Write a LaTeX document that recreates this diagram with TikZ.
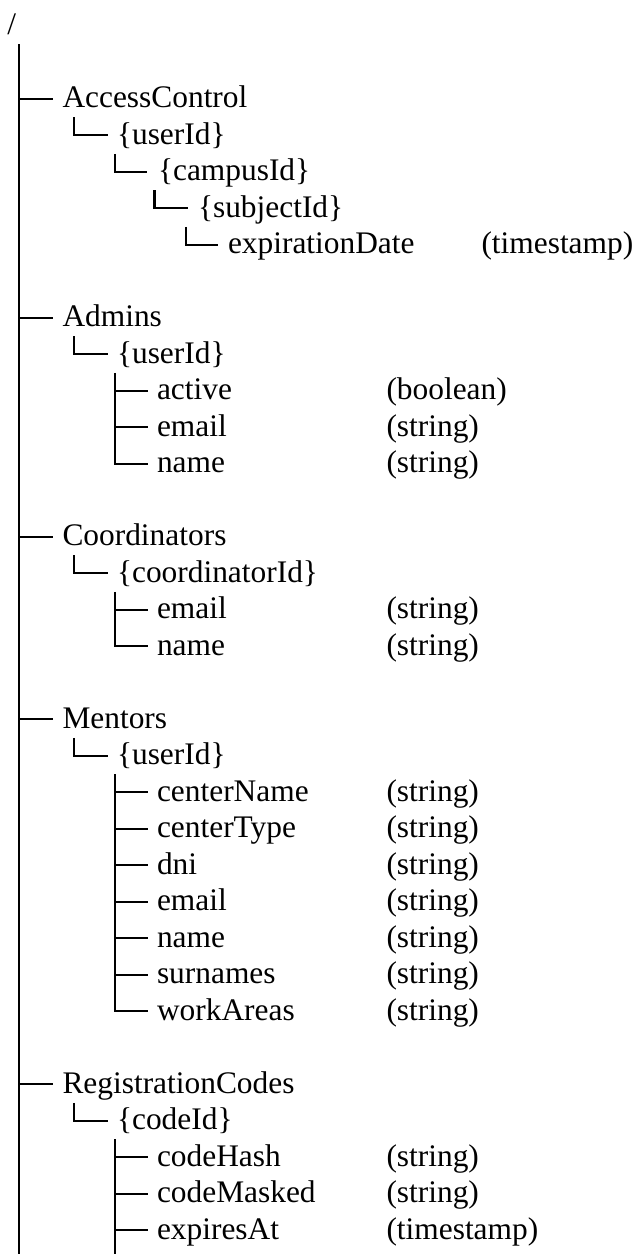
\documentclass[tikz,border=0pt]{standalone}
\usepackage{fontspec}
\setmainfont{Liberation Serif}
\newcommand\treefont{\fontsize{31.4}{36.5}\selectfont}
% baseline of row #1 (rows are evenly spaced)
\newcommand\rowb[1]{34.8+36.5*(#1)}
% a labelled entry: name, text x, branch end x, row, label
\newcommand\fsitem[5]{%
  \node[lbl] (#1) at (#2,{\rowb{#4}}) {#5};
  \coordinate (#1-e) at (#3,{\rowb{#4}-9});
}
% a type annotation: name, x, row, label
\newcommand\fstype[4]{\node[lbl] (#1) at (#2,{\rowb{#3}}) {#4};}
% top of the vertical stroke in a given row: name, x, row
\newcommand\fstop[3]{\coordinate (#1) at (#2,{\rowb{#3}-27});}

\begin{document}
\begin{tikzpicture}[x=1pt,y=-1pt,
  lbl/.style={anchor=base west,inner sep=0pt,outer sep=0pt,font=\treefont},
  trunkline/.style={line width=2.8pt,black},
  branch/.style={line width=2.1pt,black}]
\useasboundingbox (0,0) rectangle (638,1254);

\node[lbl] (root) at (7.5,{\rowb{0}}) {/};
\fstop{trunk-top}{19}{1}
\coordinate (trunk-bot) at (19,1254);
\draw[trunkline] (trunk-top) -- (trunk-bot);

% ---------- AccessControl ----------
\fsitem{ac}{62.5}{53}{2}{AccessControl}
\fsitem{ac-u}{117}{108}{3}{\{userId\}}
\fsitem{ac-c}{158}{147}{4}{\{campusId\}}
\fsitem{ac-s}{198}{188}{5}{\{subjectId\}}
\fsitem{ac-x}{228}{218}{6}{expirationDate}
\fstype{ac-xt}{481.5}{6}{(timestamp)}
\draw[branch] (trunk-top |- ac-e) -- (ac-e);
\fstop{ac-u-t}{74}{3}
\draw[branch] (ac-u-t) |- (ac-u-e);
\fstop{ac-c-t}{115}{4}
\draw[branch] (ac-c-t) |- (ac-c-e);
\fstop{ac-s-t}{154.5}{5}
\draw[branch] (ac-s-t) |- (ac-s-e);
\fstop{ac-x-t}{186}{6}
\draw[branch] (ac-x-t) |- (ac-x-e);

% ---------- Admins ----------
\fsitem{ad}{62.5}{53}{8}{Admins}
\fsitem{ad-u}{117}{108}{9}{\{userId\}}
\fsitem{ad-a}{157}{148}{10}{active}
\fsitem{ad-m}{157}{148}{11}{email}
\fsitem{ad-n}{157}{148}{12}{name}
\fstype{ad-at}{386.5}{10}{(boolean)}
\fstype{ad-mt}{386.5}{11}{(string)}
\fstype{ad-nt}{386.5}{12}{(string)}
\draw[branch] (trunk-top |- ad-e) -- (ad-e);
\fstop{ad-u-t}{74}{9}
\draw[branch] (ad-u-t) |- (ad-u-e);
\fstop{ad-f-t}{115}{10}
\draw[branch] (ad-f-t) |- (ad-n-e);
\draw[branch] (ad-f-t |- ad-a-e) -- (ad-a-e);
\draw[branch] (ad-f-t |- ad-m-e) -- (ad-m-e);

% ---------- Coordinators ----------
\fsitem{co}{62.5}{53}{14}{Coordinators}
\fsitem{co-u}{117}{108}{15}{\{coordinatorId\}}
\fsitem{co-m}{157}{148}{16}{email}
\fsitem{co-n}{157}{148}{17}{name}
\fstype{co-mt}{386.5}{16}{(string)}
\fstype{co-nt}{386.5}{17}{(string)}
\draw[branch] (trunk-top |- co-e) -- (co-e);
\fstop{co-u-t}{74}{15}
\draw[branch] (co-u-t) |- (co-u-e);
\fstop{co-f-t}{115}{16}
\draw[branch] (co-f-t) |- (co-n-e);
\draw[branch] (co-f-t |- co-m-e) -- (co-m-e);

% ---------- Mentors ----------
\fsitem{me}{62.5}{53}{19}{Mentors}
\fsitem{me-u}{117}{108}{20}{\{userId\}}
\fsitem{me-1}{157}{148}{21}{centerName}
\fsitem{me-2}{157}{148}{22}{centerType}
\fsitem{me-3}{157}{148}{23}{dni}
\fsitem{me-4}{157}{148}{24}{email}
\fsitem{me-5}{157}{148}{25}{name}
\fsitem{me-6}{157}{148}{26}{surnames}
\fsitem{me-7}{157}{148}{27}{workAreas}
\foreach \r/\k in {21/1,22/2,23/3,24/4,25/5,26/6,27/7}
  \fstype{me-\k t}{386.5}{\r}{(string)};
\draw[branch] (trunk-top |- me-e) -- (me-e);
\fstop{me-u-t}{74}{20}
\draw[branch] (me-u-t) |- (me-u-e);
\fstop{me-f-t}{115}{21}
\draw[branch] (me-f-t) |- (me-7-e);
\foreach \k in {1,...,6}
  \draw[branch] (me-f-t |- me-\k-e) -- (me-\k-e);

% ---------- RegistrationCodes ----------
\fsitem{rc}{62.5}{53}{29}{RegistrationCodes}
\fsitem{rc-u}{117}{108}{30}{\{codeId\}}
\fsitem{rc-h}{157}{148}{31}{codeHash}
\fsitem{rc-m}{157}{148}{32}{codeMasked}
\fsitem{rc-x}{157}{148}{33}{expiresAt}
\fstype{rc-ht}{386.5}{31}{(string)}
\fstype{rc-mt}{386.5}{32}{(string)}
\fstype{rc-xt}{386.5}{33}{(timestamp)}
\draw[branch] (trunk-top |- rc-e) -- (rc-e);
\fstop{rc-u-t}{74}{30}
\draw[branch] (rc-u-t) |- (rc-u-e);
\fstop{rc-f-t}{115}{31}
\coordinate (rc-f-b) at (115,1254);
\draw[branch] (rc-f-t) -- (rc-f-b);
\draw[branch] (rc-f-t |- rc-h-e) -- (rc-h-e);
\draw[branch] (rc-f-t |- rc-m-e) -- (rc-m-e);
\draw[branch] (rc-f-t |- rc-x-e) -- (rc-x-e);
\end{tikzpicture}
\end{document}
